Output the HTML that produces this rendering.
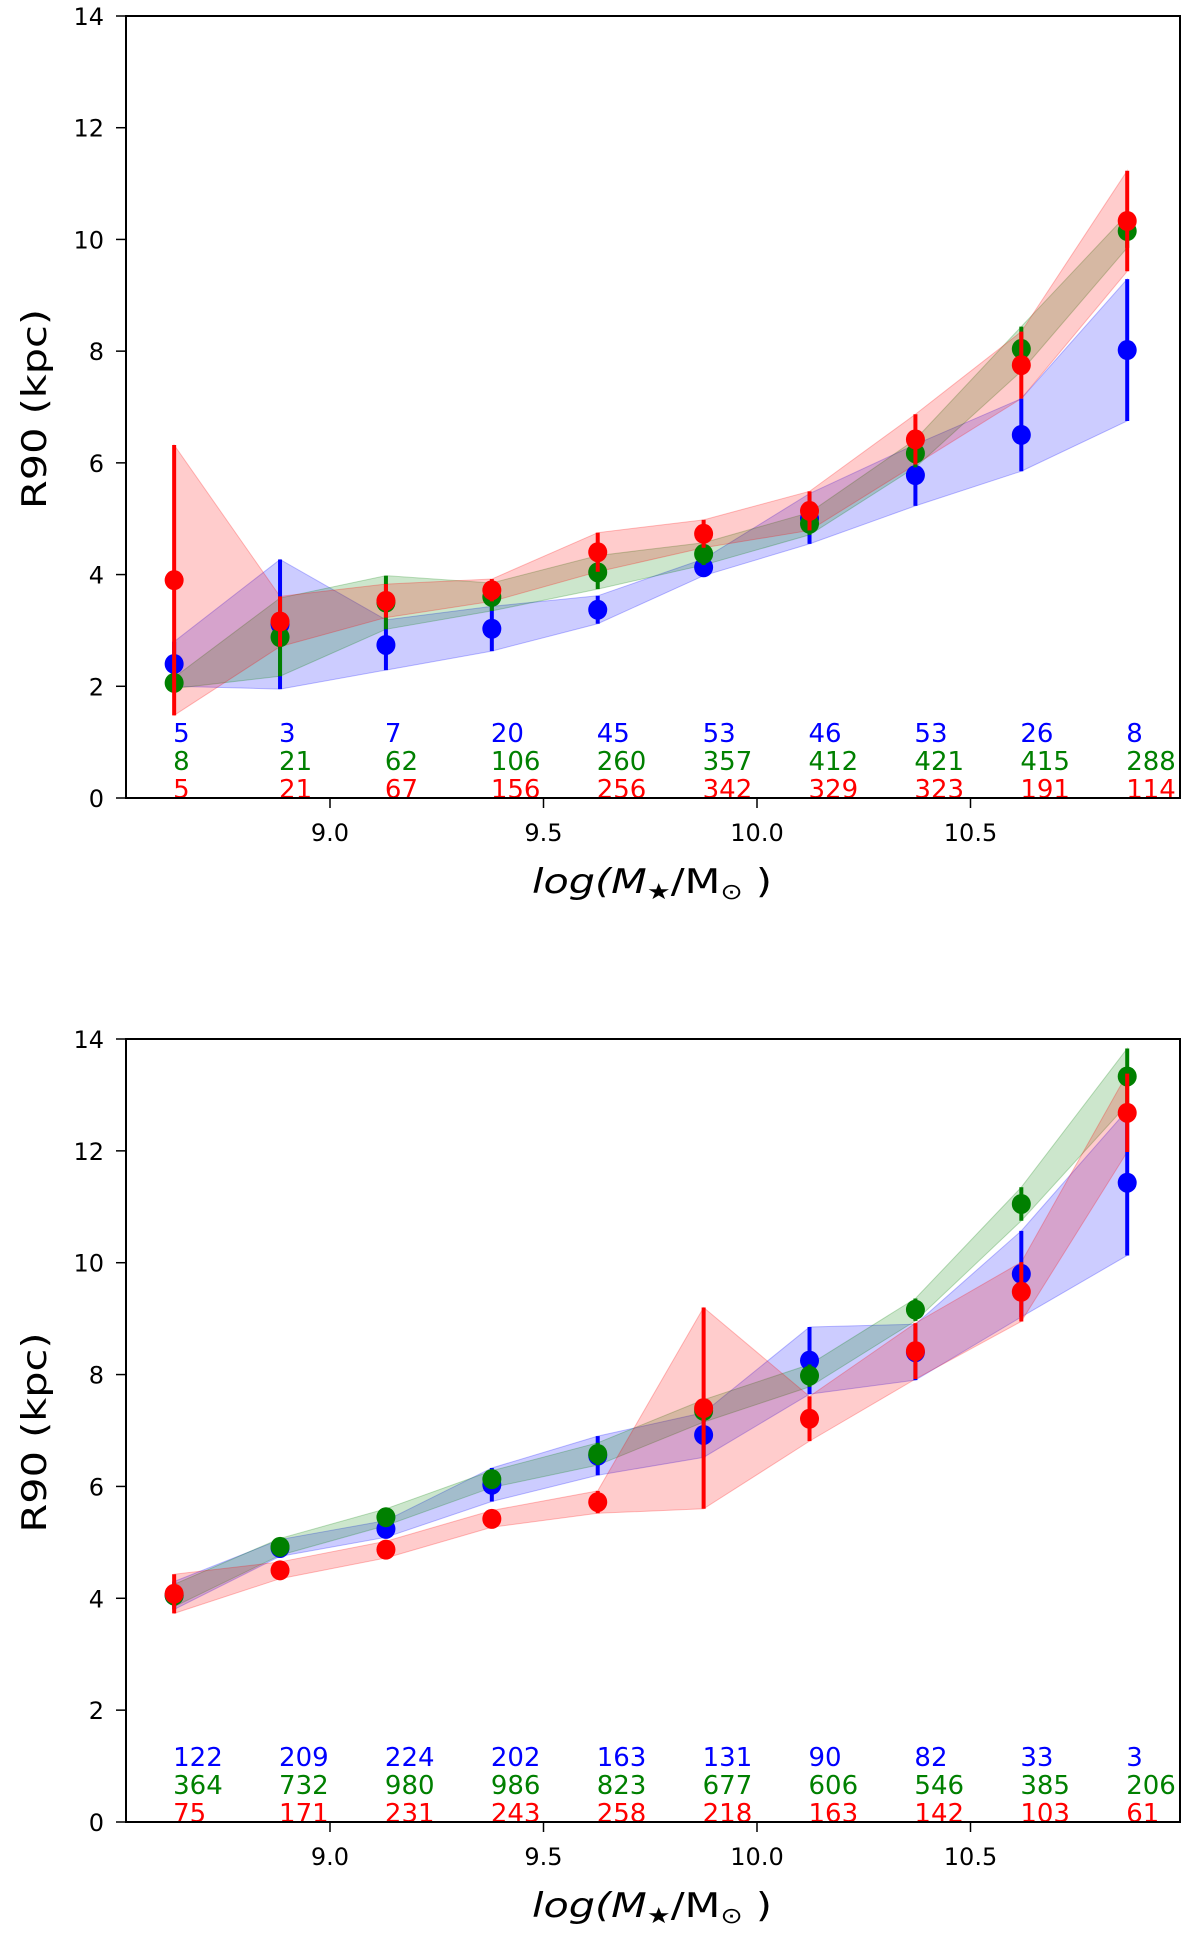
<!DOCTYPE html>
<html><head><meta charset="utf-8">
<style>
html,body{margin:0;padding:0;background:#fff;}
svg{display:block;font-family:"DejaVu Sans","Liberation Sans",sans-serif;}
</style></head>
<body>
<svg id="fig" width="1200" height="1934" viewBox="0 0 1200 1934" xmlns="http://www.w3.org/2000/svg">
<rect width="1200" height="1934" fill="#fff"/>
</svg>
<script>
// ---- data ----
const massBins = [8.635, 8.883, 9.131, 9.379, 9.627, 9.875, 10.123, 10.371, 10.619, 10.867];
const yTicks = [0, 2, 4, 6, 8, 10, 12, 14];
const xTicks = [9.0, 9.5, 10.0, 10.5];
const xTickLabels = ["9.0", "9.5", "10.0", "10.5"];

// top panel
const topBlue = [2.40, 3.11, 2.74, 3.03, 3.37, 4.13, 5.00, 5.78, 6.50, 8.02];
const topBlueErr = [0.40, 1.16, 0.45, 0.40, 0.25, 0.15, 0.45, 0.55, 0.65, 1.27];
const topGreen = [2.06, 2.88, 3.50, 3.60, 4.04, 4.37, 4.91, 6.17, 8.04, 10.15];
const topGreenErr = [0.10, 0.70, 0.48, 0.25, 0.30, 0.20, 0.20, 0.25, 0.40, 0.30];
const topRed = [3.90, 3.16, 3.53, 3.72, 4.40, 4.73, 5.14, 6.42, 7.75, 10.33];
const topRedErr = [2.42, 0.45, 0.30, 0.20, 0.35, 0.25, 0.35, 0.45, 0.60, 0.90];
const topNBlue = [5, 3, 7, 20, 45, 53, 46, 53, 26, 8];
const topNGreen = [8, 21, 62, 106, 260, 357, 412, 421, 415, 288];
const topNRed = [5, 21, 67, 156, 256, 342, 329, 323, 191, 114];

// bottom panel
const botBlue = [4.05, 4.90, 5.24, 6.03, 6.55, 6.92, 8.25, 8.40, 9.80, 11.43];
const botBlueErr = [0.25, 0.15, 0.15, 0.30, 0.35, 0.40, 0.60, 0.50, 0.77, 1.30];
const botGreen = [4.05, 4.92, 5.45, 6.13, 6.58, 7.35, 7.98, 9.16, 11.05, 13.33];
const botGreenErr = [0.20, 0.15, 0.15, 0.15, 0.20, 0.20, 0.20, 0.20, 0.30, 0.50];
const botRed = [4.08, 4.50, 4.87, 5.42, 5.72, 7.40, 7.21, 8.42, 9.48, 12.68];
const botRedErr = [0.35, 0.15, 0.15, 0.15, 0.20, 1.80, 0.40, 0.50, 0.53, 0.70];
const botNBlue = [122, 209, 224, 202, 163, 131, 90, 82, 33, 3];
const botNGreen = [364, 732, 980, 986, 823, 677, 606, 546, 385, 206];
const botNRed = [75, 171, 231, 243, 258, 218, 163, 142, 103, 61];

// ---- drawing ----
const NS = "http://www.w3.org/2000/svg";
const svg = document.getElementById("fig");
const X0 = 126, X1 = 1180;
function xs(v){ return 330 + (v - 9.0) * 427; }
function mk(tag, attrs, parent){
  const e = document.createElementNS(NS, tag);
  for (const k in attrs) e.setAttribute(k, attrs[k]);
  (parent || svg).appendChild(e);
  return e;
}

function panel(name, top, bottom, series, counts){
  const g = mk("g", {});
  
  
  const ys = v => bottom - v * (bottom - top) / 14;

  // bands
  series.forEach(s => {
    let pts = massBins.map((m,i)=> xs(m)+","+ys(s.v[i]+s.e[i]));
    pts = pts.concat(massBins.map((m,i)=> xs(m)+","+ys(s.v[i]-s.e[i])).reverse());
    const p = mk("polygon", {points: pts.join(" "), fill: s.c, "fill-opacity": 0.2, stroke: s.c, "stroke-opacity": 0.25, "stroke-width": 1}, g);
    
    
  });
  // error bars + markers
  series.forEach(s => {
    massBins.forEach((m,i) => {
      const l = mk("line", {x1: xs(m), x2: xs(m), y1: ys(s.v[i]-s.e[i]), y2: ys(s.v[i]+s.e[i]), stroke: s.c, "stroke-width": 4}, g);
      
      
      const c = mk("ellipse", {cx: xs(m), cy: ys(s.v[i]), rx: 9.5, ry: 10, fill: s.c}, g);
      
      
    });
  });
  // counts
  counts.forEach((row, r) => {
    row.vals.forEach((n,i) => {
      const t = mk("text", {x: xs(massBins[i]) - 1, y: bottom - 56 + r*28, fill: row.c, "font-size": 26}, g);
      t.textContent = n;
      
      
    });
  });
  // frame
  const f = mk("rect", {x: X0, y: top, width: X1 - X0, height: bottom - top, fill: "none", stroke: "#000", "stroke-width": 2}, g);
  
  
  // y ticks
  yTicks.forEach(v => {
    mk("line", {x1: X0 - 10, x2: X0, y1: ys(v), y2: ys(v), stroke: "#000", "stroke-width": 1.5}, g);
    const t = mk("text", {x: 104, y: ys(v) + 9, "text-anchor": "end", "font-size": 24, fill: "#000"}, g);
    t.textContent = v;
    
    
  });
  // x ticks
  xTicks.forEach((v,i) => {
    mk("line", {x1: xs(v), x2: xs(v), y1: bottom, y2: bottom + 10, stroke: "#000", "stroke-width": 1.5}, g);
    const t = mk("text", {x: xs(v), y: bottom + 43, "text-anchor": "middle", "font-size": 24, fill: "#000"}, g);
    t.textContent = xTickLabels[i];
    
    
  });
  // y title
  const yt = mk("text", {x: 0, y: 0, "text-anchor": "middle", "font-size": 34, fill: "#000", textLength: 200, lengthAdjust: "spacingAndGlyphs",
    transform: "translate(46," + ((top+bottom)/2 + 2) + ") rotate(-90)"}, g);
  yt.textContent = "R90 (kpc)";
  
  
  // x title
  const xt = mk("text", {x: 532, y: bottom + 95, "font-size": 34, fill: "#000", textLength: 240, lengthAdjust: "spacingAndGlyphs"}, g);
  
  
  const a = mk("tspan", {"font-style": "italic"}, xt); a.textContent = "log(M";
  const b = mk("tspan", {"font-size": 22, dy: 6}, xt); b.textContent = "★";
  const c2 = mk("tspan", {dy: -6}, xt); c2.textContent = "/M";
  const d = mk("tspan", {"font-size": 22, dy: 6}, xt); d.textContent = "⊙";
  const e = mk("tspan", {dy: -6}, xt); e.textContent = " )";
}

panel("top-panel", 16, 798,
  [{n:"blue", c:"#0000ff", v:topBlue, e:topBlueErr},
   {n:"green", c:"#008000", v:topGreen, e:topGreenErr},
   {n:"red", c:"#ff0000", v:topRed, e:topRedErr}],
  [{n:"blue", c:"#0000ff", vals: topNBlue},
   {n:"green", c:"#008000", vals: topNGreen},
   {n:"red", c:"#ff0000", vals: topNRed}]);

panel("bottom-panel", 1039, 1822,
  [{n:"blue", c:"#0000ff", v:botBlue, e:botBlueErr},
   {n:"green", c:"#008000", v:botGreen, e:botGreenErr},
   {n:"red", c:"#ff0000", v:botRed, e:botRedErr}],
  [{n:"blue", c:"#0000ff", vals: botNBlue},
   {n:"green", c:"#008000", vals: botNGreen},
   {n:"red", c:"#ff0000", vals: botNRed}]);
</script>
</body></html>
